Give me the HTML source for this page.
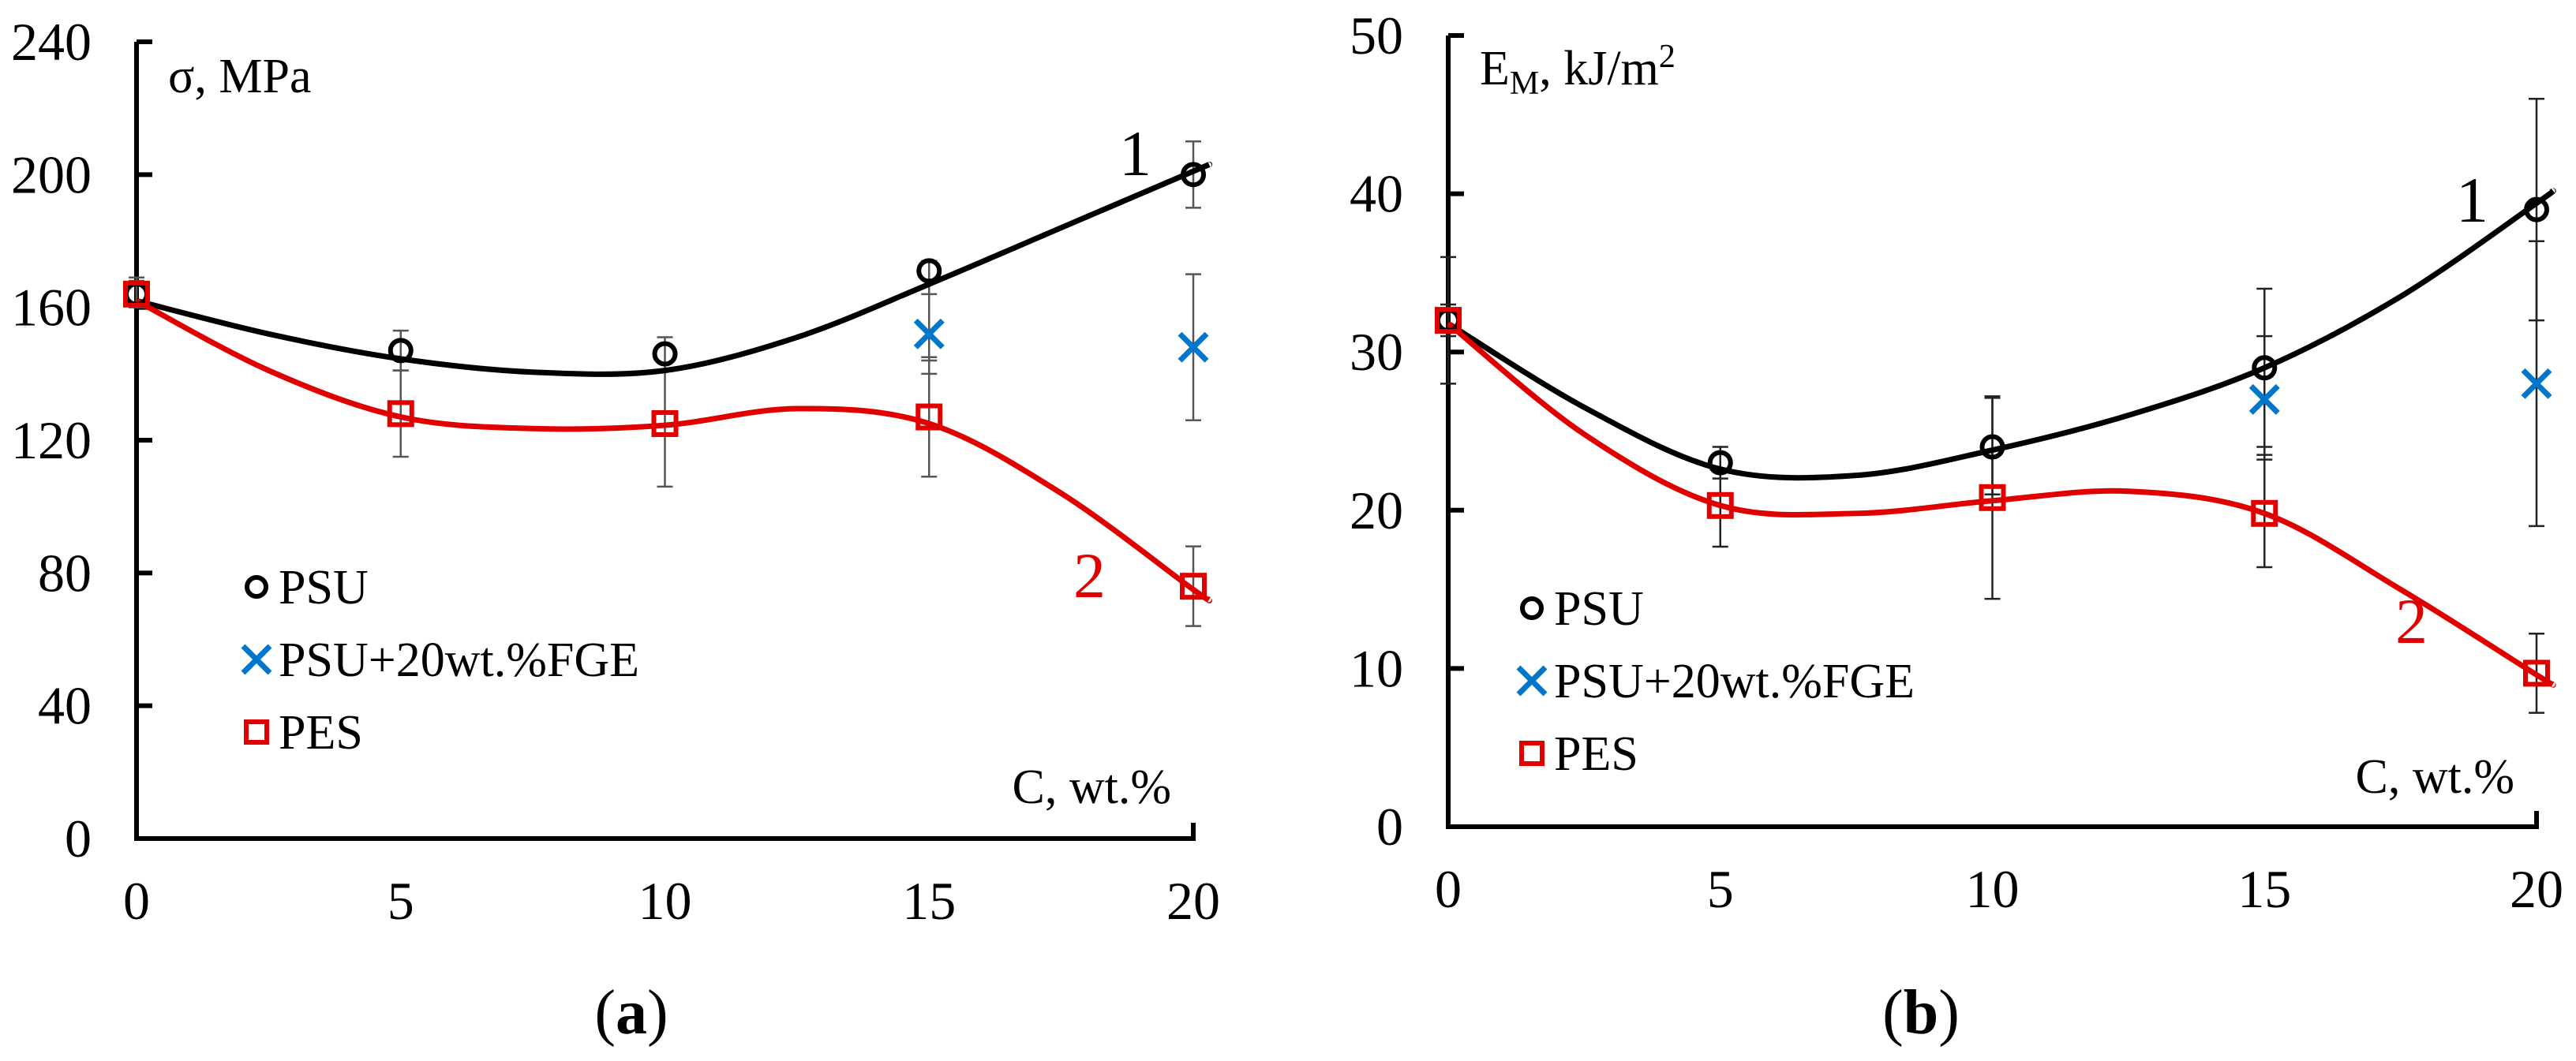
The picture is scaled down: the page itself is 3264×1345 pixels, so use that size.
<!DOCTYPE html>
<html><head><meta charset="utf-8"><style>
html,body{margin:0;padding:0;background:#fff;}
svg{display:block;}
svg text{font-family:"Liberation Serif","DejaVu Serif",serif !important;}
</style></head><body>
<svg id="fig" width="3264" height="1345" viewBox="0 0 3264 1345" xmlns="http://www.w3.org/2000/svg" font-family="'Liberation Serif', 'DejaVu Serif', serif" style="font-family:'Liberation Serif','DejaVu Serif',serif"></svg>
<script>
// ---- shared x data ----
const xCats = [0, 5, 10, 15, 20];
const xTicks = ["0", "5", "10", "15", "20"];
const fitX = [0, 2.5, 5, 7.5, 10, 12.5, 15, 17.5, 20, 20.3];

// ---- chart (a): tensile strength ----
const aTicks = [0, 40, 80, 120, 160, 200, 240];
const aPSU = [164, 147, 146, 171, 200];
const aPSUhi = [169, 153, 151, 174, 210];
const aPSUlo = [160, 141, 141, 144, 190];
const aFGEx = [15, 20];
const aFGE = [152, 148];
const aFGEhi = [164, 170];
const aFGElo = [140, 126];
const aPES = [164, 128, 125, 127, 76];
const aPEShi = [168, 141, 141, 145, 88];
const aPESlo = [160, 115, 106, 109, 64];
const aFitPSU = [162, 152, 144.5, 140.5, 141, 151, 167, 184, 201, 203];
const aFitPES = [162, 141, 127, 123.5, 124.5, 129.5, 125, 104, 75, 72];

// ---- chart (b): impact strength ----
const bTicks = [0, 10, 20, 30, 40, 50];
const bPSU = [32, 23, 24, 29, 39];
const bPSUhi = [36, 24, 27.1, 34, 46];
const bPSUlo = [28, 22, 21, 24, 32];
const bFGEx = [15, 20];
const bFGE = [27, 28];
const bFGEhi = [31, 37];
const bFGElo = [23.2, 19];
const bPES = [32, 20.3, 20.8, 19.8, 9.7];
const bPEShi = [33, 22.5, 27.2, 23.5, 12.2];
const bPESlo = [31, 17.7, 14.4, 16.4, 7.2];
const bFitPSU = [31.8, 26.5, 22.6, 22.2, 23.8, 26, 29, 33.5, 39.4, 40.2];
const bFitPES = [31.8, 24.8, 20.3, 19.8, 20.6, 21.2, 19.8, 15, 9.6, 9.0];

const NS = "http://www.w3.org/2000/svg";
const FONT = "'Liberation Serif', 'DejaVu Serif', serif";
const svg = document.getElementById("fig");
function mk(tag, attrs, parent) {
  const e = document.createElementNS(NS, tag);
  for (const k in attrs) e.setAttribute(k, attrs[k]);
  if (tag === "text") e.setAttribute("font-family", FONT);
  (parent || svg).appendChild(e);
  return e;
}
function catmull(pts) {
  let d = "M" + pts[0][0] + "," + pts[0][1];
  for (let i = 0; i < pts.length - 1; i++) {
    const p0 = pts[i - 1] || pts[i], p1 = pts[i], p2 = pts[i + 1], p3 = pts[i + 2] || p2;
    const c1x = p1[0] + (p2[0] - p0[0]) / 6, c1y = p1[1] + (p2[1] - p0[1]) / 6;
    const c2x = p2[0] - (p3[0] - p1[0]) / 6, c2y = p2[1] - (p3[1] - p1[1]) / 6;
    d += " C" + c1x + "," + c1y + " " + c2x + "," + c2y + " " + p2[0] + "," + p2[1];
  }
  return d;
}

function drawChart(cfg) {
  const g = mk("g", {});
  
  
  const X = v => cfg.x0 + (v - 0) / 20 * (cfg.x1 - cfg.x0);
  const Y = v => cfg.y0 - (v - cfg.ymin) / (cfg.ymax - cfg.ymin) * (cfg.y0 - cfg.y1);

  const ax = mk("path", {d: "M" + cfg.x0 + "," + cfg.y1 + " V" + cfg.y0 + " H" + cfg.x1 + " V" + (cfg.y0 - 20), stroke: "#000", "stroke-width": 6, fill: "none"}, g);
  
  
  cfg.yTicks.forEach(t => {
    const tk = mk("line", {x1: cfg.x0, x2: cfg.x0 + 20, y1: Y(t), y2: Y(t), stroke: "#000", "stroke-width": 6}, g);
    
    
    const tl = mk("text", {x: cfg.x0 - 57, y: Y(t) + 23, "text-anchor": "end", "font-size": 68}, g);
    
    
    tl.textContent = t;
  });
  xCats.forEach((c, i) => {
    const tl = mk("text", {x: X(c), y: cfg.y0 + 102, "text-anchor": "middle", "font-size": 68}, g);
    
    
    tl.textContent = xTicks[i];
  });
  const xt = mk("text", {x: cfg.x1 - 28, y: cfg.xTitleY, "text-anchor": "end", "font-size": 62}, g);
  
  
  xt.textContent = "C, wt.%";
  const yt = mk("text", {x: cfg.x0 + 40, y: cfg.yTitleY, "font-size": 62}, g);
  
  
  yt.innerHTML = cfg.yTitle;

  function err(xs, hi, lo, color, nm) {
    xs.forEach((c, i) => {
      const e = mk("path", {d: "M" + X(c) + "," + Y(hi[i]) + " V" + Y(lo[i]) + " M" + (X(c) - 10) + "," + Y(hi[i]) + " h20 M" + (X(c) - 10) + "," + Y(lo[i]) + " h20", stroke: color, "stroke-width": 2.5, fill: "none"}, g);
      
      
    });
  }
  err(xCats, cfg.psuHi, cfg.psuLo, cfg.errColor, 'psu-error-bar');
  err(cfg.fgeX, cfg.fgeHi, cfg.fgeLo, cfg.errColor, 'fge-error-bar');
  err(xCats, cfg.pesHi, cfg.pesLo, cfg.errColor, 'pes-error-bar');

  const cp = mk("path", {d: catmull(fitX.map((c, i) => [X(c), Y(cfg.fitPSU[i])])), stroke: "#000", "stroke-width": 7, fill: "none"}, g);
  
  
  const cr = mk("path", {d: catmull(fitX.map((c, i) => [X(c), Y(cfg.fitPES[i])])), stroke: "#e00000", "stroke-width": 7, fill: "none"}, g);
  
  

  xCats.forEach((c, i) => {
    const m = mk("circle", {cx: X(c), cy: Y(cfg.psu[i]), r: 13, stroke: "#000", "stroke-width": 6, fill: "none"}, g);
    
    
  });
  xCats.forEach((c, i) => {
    const m = mk("rect", {x: X(c) - 14, y: Y(cfg.pes[i]) - 14, width: 28, height: 28, stroke: "#e00000", "stroke-width": 6, fill: "none"}, g);
    
    
  });
  cfg.fgeX.forEach((c, i) => {
    const cx = X(c), cy = Y(cfg.fge[i]);
    const m = mk("path", {d: "M" + (cx - 17) + "," + (cy - 17) + " L" + (cx + 17) + "," + (cy + 17) + " M" + (cx + 17) + "," + (cy - 17) + " L" + (cx - 17) + "," + (cy + 17), stroke: "#0077cc", "stroke-width": 7, fill: "none"}, g);
    
    
  });

  const l1 = mk("text", {x: cfg.lab1[0], y: cfg.lab1[1], "font-size": 82}, g);
  
  
  l1.textContent = "1";
  const l2 = mk("text", {x: cfg.lab2[0], y: cfg.lab2[1], "font-size": 82, fill: "#e00000"}, g);
  
  
  l2.textContent = "2";

  const lg = mk("g", {}, g);
  
  
  const lx = cfg.legX, ly = cfg.legY;
  const e1 = mk("circle", {cx: lx, cy: ly, r: 12, stroke: "#000", "stroke-width": 6, fill: "none"}, lg);
  
  
  const e2 = mk("path", {d: "M" + (lx - 17) + "," + (ly + 92 - 17) + " l34,34 m0,-34 l-34,34", stroke: "#0077cc", "stroke-width": 7, fill: "none"}, lg);
  
  
  const e3 = mk("rect", {x: lx - 13, y: ly + 184 - 13, width: 26, height: 26, stroke: "#e00000", "stroke-width": 6, fill: "none"}, lg);
  
  
  ["PSU", "PSU+20wt.%FGE", "PES"].forEach((s, i) => {
    const t = mk("text", {x: lx + 28, y: ly + 92 * i + 21, "font-size": 62}, lg);
    
    
    t.textContent = s;
  });

  const cap = mk("text", {x: cfg.capX, y: 1310, "text-anchor": "middle", "font-size": 80}, g);
  
  
  cap.innerHTML = '(<tspan font-weight="bold">' + cfg.cap + '</tspan>)';
}

drawChart({name: "chart-a", x0: 173, x1: 1512, y0: 1063, y1: 53, ymin: 0, ymax: 240, yTicks: aTicks,
  psu: aPSU, psuHi: aPSUhi, psuLo: aPSUlo, fgeX: aFGEx, fge: aFGE, fgeHi: aFGEhi, fgeLo: aFGElo,
  pes: aPES, pesHi: aPEShi, pesLo: aPESlo, fitPSU: aFitPSU, fitPES: aFitPES, errColor: "#555",
  yTitle: "σ, MPa", yTitleY: 117, xTitleY: 1018, lab1: [1418, 222], lab2: [1360, 757],
  legX: 325, legY: 744, capX: 800, cap: "a"});
drawChart({name: "chart-b", x0: 1835, x1: 3214, y0: 1048, y1: 45, ymin: 0, ymax: 50, yTicks: bTicks,
  psu: bPSU, psuHi: bPSUhi, psuLo: bPSUlo, fgeX: bFGEx, fge: bFGE, fgeHi: bFGEhi, fgeLo: bFGElo,
  pes: bPES, pesHi: bPEShi, pesLo: bPESlo, fitPSU: bFitPSU, fitPES: bFitPES, errColor: "#222",
  yTitle: 'E<tspan font-size="42" dy="12">M</tspan><tspan dy="-12">, kJ/m</tspan><tspan font-size="42" dy="-22">2</tspan>',
  yTitleY: 107, xTitleY: 1005, lab1: [3112, 281], lab2: [3035, 815],
  legX: 1941, legY: 771, capX: 2434, cap: "b"});
</script>
</body></html>
